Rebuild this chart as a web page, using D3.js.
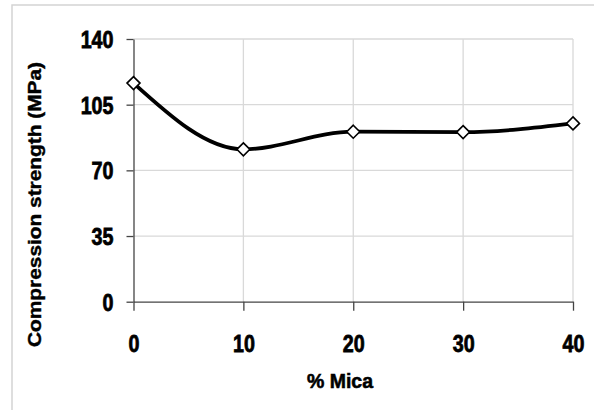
<!DOCTYPE html>
<html>
<head>
<meta charset="utf-8">
<script src="https://cdn.jsdelivr.net/npm/d3@7/dist/d3.min.js"></script>
<style>
  html, body { margin: 0; padding: 0; background: #fff; }
  svg { display: block; }
  text { font-family: "Liberation Sans", Arial, sans-serif; font-weight: bold; fill: #000; }
</style>
</head>
<body>
<svg id="chart" width="594" height="410"></svg>
<script>
const micaPct = [0, 10, 20, 30, 40];
const strength = [116.5, 81.2, 90.6, 90.4, 95.0];
const xTicks = [0, 10, 20, 30, 40];
const yTicks = [0, 35, 70, 105, 140];
const xTitle = "% Mica";
const yTitle = "Compression strength (MPa)";

const svg = d3.select("#chart");

// outer frame
svg.append("rect")
  .attr("x", 12).attr("y", 5).attr("width", 620).attr("height", 430)
  .attr("fill", "none").attr("stroke", "#d4d4d4").attr("stroke-width", 1.5);

const x = d3.scaleLinear().domain([0, 40]).range([133.5, 573]);
const y = d3.scaleLinear().domain([0, 140]).range([301.7, 39]);

// gridlines
const g = svg.append("g");
g.selectAll("line.hg").data(yTicks.filter(d => d > 0)).join("line")
  .attr("x1", x(0)).attr("x2", x(40))
  .attr("y1", d => y(d)).attr("y2", d => y(d))
  .attr("stroke", "#d9d9d9").attr("stroke-width", 1.3);
g.selectAll("line.vg").data(xTicks.filter(d => d > 0)).join("line")
  .attr("x1", d => x(d)).attr("x2", d => x(d))
  .attr("y1", y(140)).attr("y2", y(0))
  .attr("stroke", "#d9d9d9").attr("stroke-width", 1.3);

// axes
const xAxis = svg.append("g").attr("transform", `translate(0,${y(0)})`)
  .call(d3.axisBottom(x).tickValues(xTicks).tickSize(9).tickSizeOuter(0).tickPadding(24).tickFormat(d3.format("d")));
const yAxis = svg.append("g").attr("transform", `translate(${x(0)},0)`)
  .call(d3.axisLeft(y).tickValues(yTicks).tickSize(7).tickSizeOuter(0).tickPadding(13).tickFormat(d3.format("d")));

[xAxis, yAxis].forEach(ax => {
  ax.select(".domain").attr("stroke", "#444").attr("stroke-width", 1.3);
  ax.selectAll(".tick line").attr("stroke", "#444").attr("stroke-width", 1.3);
  ax.selectAll(".tick text")
    .style("font-size", "24px").style("font-weight", "bold")
    .style("font-family", "'Liberation Sans', Arial, sans-serif")
    .attr("fill", "#000").attr("stroke", "#000").attr("stroke-width", 0.8)
    .each(function() {
      const len = this.getComputedTextLength();
      d3.select(this).attr("textLength", len * 0.82).attr("lengthAdjust", "spacingAndGlyphs");
    });
});
yAxis.selectAll(".tick text").attr("dy", "0.35em");

// line
const pts = micaPct.map((m, i) => [m, strength[i]]);
svg.append("path")
  .datum(pts)
  .attr("fill", "none").attr("stroke", "#000").attr("stroke-width", 3.8)
  .attr("stroke-linejoin", "round")
  .attr("d", d3.line().x(d => x(d[0])).y(d => y(d[1])).curve(d3.curveMonotoneX));

// diamond markers
const r = 6.5;
svg.selectAll("path.mk").data(pts).join("path")
  .attr("d", d => {
    const cx = x(d[0]), cy = y(d[1]);
    return `M${cx},${cy - r}L${cx + r},${cy}L${cx},${cy + r}L${cx - r},${cy}Z`;
  })
  .attr("fill", "#fff").attr("stroke", "#000").attr("stroke-width", 1.6);

// titles
svg.append("text")
  .attr("x", 340).attr("y", 388)
  .attr("text-anchor", "middle")
  .style("font-size", "21px")
  .attr("stroke", "#000").attr("stroke-width", 0.6)
  .attr("textLength", 66).attr("lengthAdjust", "spacingAndGlyphs")
  .text(xTitle);

svg.append("text")
  .attr("transform", "translate(41,204.5) rotate(-90)")
  .attr("text-anchor", "middle")
  .style("font-size", "18px")
  .attr("stroke", "#000").attr("stroke-width", 0.4)
  .attr("textLength", 285).attr("lengthAdjust", "spacingAndGlyphs")
  .text(yTitle);
</script>
</body>
</html>
